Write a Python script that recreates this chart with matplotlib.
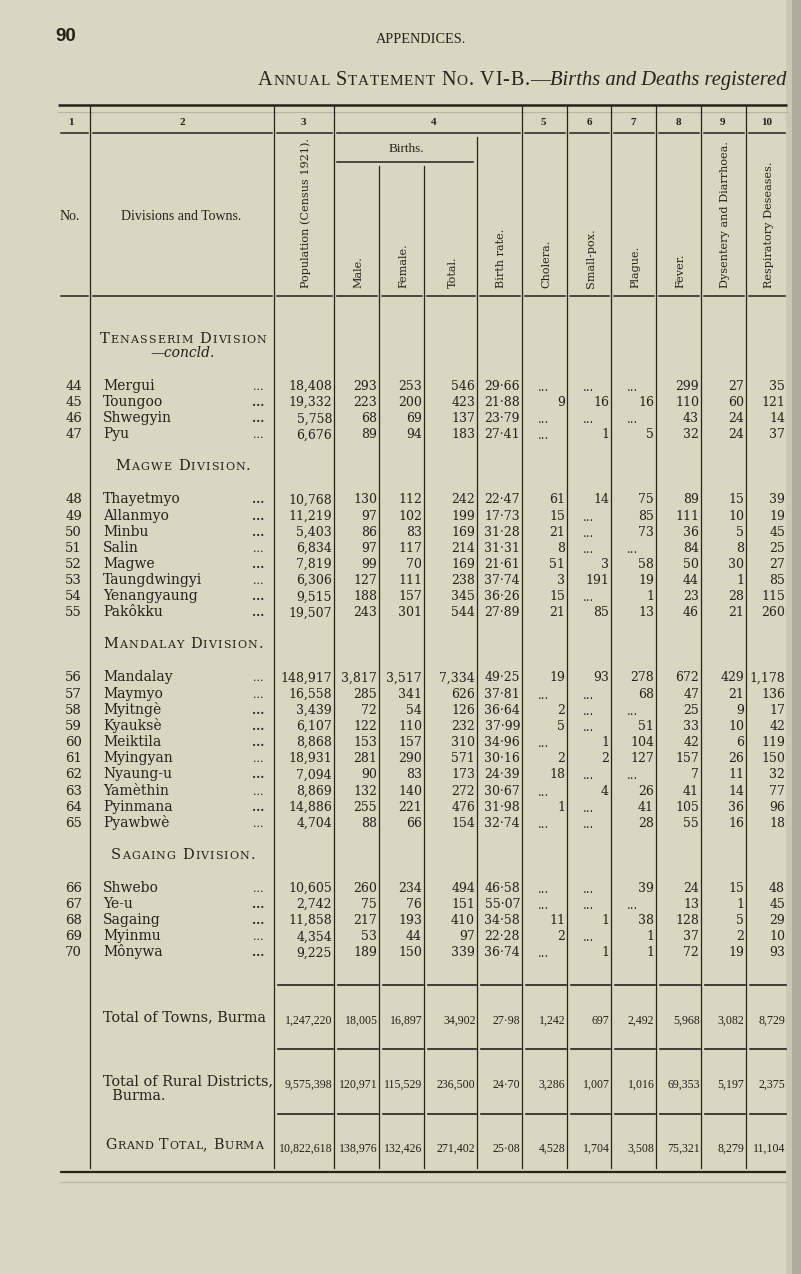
import matplotlib
matplotlib.use('Agg')
import matplotlib.pyplot as plt
from matplotlib.font_manager import FontProperties, findfont
from matplotlib.ft2font import FT2Font

PAPER = '#dbd6bf'
INK = '#25211d'
SERIF = 'DejaVu Serif'
TIMES = 'Liberation Serif'
PX = 100 / 72.0

# ---------------- data ----------------
row_no = list(range(44, 71))
towns = ['Mergui', 'Toungoo', 'Shwegyin', 'Pyu',
         'Thayetmyo', 'Allanmyo', 'Minbu', 'Salin', 'Magwe', 'Taungdwingyi',
         'Yenangyaung', 'Pakôkku',
         'Mandalay', 'Maymyo', 'Myitngè', 'Kyauksè', 'Meiktila', 'Myingyan',
         'Nyaung-u', 'Yamèthin', 'Pyinmana', 'Pyawbwè',
         'Shwebo', 'Ye-u', 'Sagaing', 'Myinmu', 'Mônywa']
divisions = ['Tenasserim Division', 'Magwe Division.', 'Mandalay Division.', 'Sagaing Division.']
division_notes = ['—concld.', None, None, None]
division_sizes = [4, 8, 10, 5]

population = ['18,408', '19,332', '5,758', '6,676', '10,768', '11,219', '5,403', '6,834', '7,819',
              '6,306', '9,515', '19,507', '148,917', '16,558', '3,439', '6,107', '8,868', '18,931',
              '7,094', '8,869', '14,886', '4,704', '10,605', '2,742', '11,858', '4,354', '9,225']
male = ['293', '223', '68', '89', '130', '97', '86', '97', '99', '127', '188', '243', '3,817', '285',
        '72', '122', '153', '281', '90', '132', '255', '88', '260', '75', '217', '53', '189']
female = ['253', '200', '69', '94', '112', '102', '83', '117', '70', '111', '157', '301', '3,517', '341',
          '54', '110', '157', '290', '83', '140', '221', '66', '234', '76', '193', '44', '150']
births_total = ['546', '423', '137', '183', '242', '199', '169', '214', '169', '238', '345', '544', '7,334',
                '626', '126', '232', '310', '571', '173', '272', '476', '154', '494', '151', '410', '97', '339']
birth_rate = ['29·66', '21·88', '23·79', '27·41', '22·47', '17·73', '31·28', '31·31', '21·61', '37·74',
              '36·26', '27·89', '49·25', '37·81', '36·64', '37·99', '34·96', '30·16', '24·39', '30·67',
              '31·98', '32·74', '46·58', '55·07', '34·58', '22·28', '36·74']
cholera = ['...', '9', '...', '...', '61', '15', '21', '8', '51', '3', '15', '21', '19', '...', '2', '5',
           '...', '2', '18', '...', '1', '...', '...', '...', '11', '2', '...']
small_pox = ['...', '16', '...', '1', '14', '...', '...', '...', '3', '191', '...', '85', '93', '...', '...',
             '...', '1', '2', '...', '4', '...', '...', '...', '...', '1', '...', '1']
plague = ['...', '16', '...', '5', '75', '85', '73', '...', '58', '19', '1', '13', '278', '68', '...', '51',
          '104', '127', '...', '26', '41', '28', '39', '...', '38', '1', '1']
fever = ['299', '110', '43', '32', '89', '111', '36', '84', '50', '44', '23', '46', '672', '47', '25', '33',
         '42', '157', '7', '41', '105', '55', '24', '13', '128', '37', '72']
dysentery = ['27', '60', '24', '24', '15', '10', '5', '8', '30', '1', '28', '21', '429', '21', '9', '10', '6',
             '26', '11', '14', '36', '16', '15', '1', '5', '2', '19']
respiratory = ['35', '121', '14', '37', '39', '19', '45', '25', '27', '85', '115', '260', '1,178', '136', '17',
               '42', '119', '150', '32', '77', '96', '18', '48', '45', '29', '10', '93']

total_labels = ['Total of Towns, Burma', 'Total of Rural Districts,\n  Burma.', 'Grand Total, Burma']
total_values = [
    ['1,247,220', '18,005', '16,897', '34,902', '27·98', '1,242', '697', '2,492', '5,968', '3,082', '8,729'],
    ['9,575,398', '120,971', '115,529', '236,500', '24·70', '3,286', '1,007', '1,016', '69,353', '5,197', '2,375'],
    ['10,822,618', '138,976', '132,426', '271,402', '25·08', '4,528', '1,704', '3,508', '75,321', '8,279', '11,104'],
]

col_numbers = ['1', '2', '3', '4', '5', '6', '7', '8', '9', '10']
header_rot = ['Population (Census 1921).', 'Male.', 'Female.', 'Total.', 'Birth rate.', 'Cholera.',
              'Small-pox.', 'Plague.', 'Fever.', 'Dysentery and Diarrhoea.', 'Respiratory Deseases.']

# leader style of the printed dots after each town name
heavy_leaders = {45, 46, 48, 49, 50, 52, 54, 55, 58, 59, 60, 62, 64, 67, 68, 70}

# ---------------- layout ----------------
EDGES = [58, 90, 274, 334, 379, 424, 477, 522, 567, 611, 656, 701, 746, 787]
NUM_X = [71, 182, 303, 434, 543, 589, 633, 678, 722, 767]

fig = plt.figure(figsize=(8.01, 12.74), dpi=100)
fig.patch.set_facecolor(PAPER)
ax = fig.add_axes([0, 0, 1, 1])
ax.set_xlim(0, 801)
ax.set_ylim(1274, 0)
ax.axis('off')

_fonts = {}


def advance(ch, family, size):
    """Advance width of one glyph, in pixels."""
    if family not in _fonts:
        _fonts[family] = FT2Font(findfont(FontProperties(family=family)))
    f = _fonts[family]
    f.set_size(size, 72)
    g = f.load_char(ord(ch))
    return g.linearHoriAdvance / 65536.0 * PX


def caps(x, y, s, big, small, ha='left', track=0.8, family=SERIF):
    """Small caps drawn letter by letter."""
    items = []
    for ch in s:
        sz = small if ch.islower() else big
        items.append((ch.upper(), sz, advance(ch.upper(), family, sz)))
    width = sum(w for _, _, w in items) + track * (len(items) - 1)
    cx = x - width / 2 if ha == 'center' else x
    for ch, sz, w in items:
        if ch != ' ':
            ax.text(cx, y, ch, fontsize=sz, family=family, color=INK, ha='left', va='baseline')
        cx += w + track
    return cx


# page head
ax.text(55, 41, '90', fontsize=13.5, family='Liberation Sans', weight='bold', color=INK, va='baseline')
ax.text(421, 43, 'APPENDICES.', fontsize=10.3, family=TIMES, color=INK, ha='center', va='baseline')
end = caps(258, 85, 'Annual Statement No. VI-B.', 14.5, 11, family=TIMES, track=0.7)
ax.text(end, 85, '—', fontsize=14.5, family=TIMES, color=INK, va='baseline')
end += advance('—', TIMES, 14.5)
ax.text(end, 85, 'Births and Deaths registered', fontsize=14.8, family=TIMES, style='italic',
        color=INK, va='baseline')

# rules
ax.plot([58, 787], [105, 105], color=INK, lw=1.8, solid_capstyle='butt')
ax.plot([58, 787], [112, 112], color='#b9b49f', lw=0.8)
ax.plot([60, 786], [1172, 1172], color=INK, lw=1.6, solid_capstyle='butt')
ax.plot([60, 786], [1182, 1182], color='#bdb8a3', lw=0.9)
BOT = 1168
for x in [90, 274, 334, 522, 567, 611, 656, 701, 746]:
    ax.plot([x, x], [105, BOT], color=INK, lw=0.9)
for x in [379, 424]:
    ax.plot([x, x], [166, BOT], color=INK, lw=0.9)
ax.plot([477, 477], [137, BOT], color=INK, lw=0.9)

top_cols = [0, 1, 2, 3, 7, 8, 9, 10, 11, 12]
for i, c in enumerate(top_cols):
    left = EDGES[c]
    right = EDGES[top_cols[i + 1]] if i + 1 < len(top_cols) else EDGES[-1]
    ax.plot([left + 3, right - 2], [133, 133], color=INK, lw=1.1)
ax.plot([337, 473], [162, 162], color=INK, lw=1.1)
for i in range(len(EDGES) - 1):
    ax.plot([EDGES[i] + 3, EDGES[i + 1] - 2], [296, 296], color=INK, lw=1.1)

# header texts
for lab, x in zip(col_numbers, NUM_X):
    ax.text(x, 125, lab, fontsize=8, family=TIMES, weight='bold', color=INK, ha='center', va='baseline')
ax.text(406, 152, 'Births.', fontsize=9.5, family=TIMES, color=INK, ha='center', va='baseline')
ax.text(70, 220, 'No.', fontsize=10, family=TIMES, color=INK, ha='center', va='baseline')
ax.text(181, 220, 'Divisions and Towns.', fontsize=10, family=TIMES, color=INK, ha='center', va='baseline')
for i, lab in enumerate(header_rot):
    xc = (EDGES[i + 2] + EDGES[i + 3]) / 2 + 2
    ax.text(xc, 288, lab, rotation=90, fontsize=8.1, family=SERIF, color=INK, ha='center', va='bottom')

# body
series = [population, male, female, births_total, birth_rate, cholera, small_pox, plague,
          fever, dysentery, respiratory]
STEP = 16.15
y = 343
k = 0
for d, (div, note, n) in enumerate(zip(divisions, division_notes, division_sizes)):
    caps(183, y, div, 10.5, 8, ha='center', track=1.1)
    if note:
        y += 14
        ax.text(183, y, note, fontsize=10, family=SERIF, style='italic', color=INK,
                ha='center', va='baseline')
    y += 33
    for j in range(n):
        ax.text(82, y, str(row_no[k]), fontsize=9.5, family=SERIF, color=INK, ha='right', va='baseline')
        ax.text(103, y, towns[k], fontsize=10, family=SERIF, color=INK, ha='left', va='baseline')
        heavy = row_no[k] in heavy_leaders
        ax.text(264, y, '...', fontsize=8 if not heavy else 8.5, family=SERIF,
                weight='bold' if heavy else 'normal', color=INK, ha='right', va='baseline')
        for c, s in enumerate(series):
            left, right = EDGES[c + 2], EDGES[c + 3]
            v = s[k]
            if v == '...':
                ax.text((left + right) / 2 - 1, y + 1, v, fontsize=8.5, family=SERIF, color=INK,
                        ha='center', va='baseline')
            else:
                ax.text(right - 2, y, v, fontsize=9, family=SERIF, color=INK, ha='right', va='baseline')
        k += 1
        if j < n - 1:
            y += STEP
    y += 32

# totals
line_ys = [985, 1049, 1114]
label_ys = [1021, 1085, 1149]
value_ys = [1024, 1088, 1152]
for ly in line_ys:
    for c in range(2, len(EDGES) - 1):
        ax.plot([EDGES[c] + 4, EDGES[c + 1] - 1], [ly, ly], color=INK, lw=1.2)
ax.text(103, label_ys[0], total_labels[0], fontsize=10.4, family=SERIF, color=INK, va='baseline')
ax.text(103, label_ys[1] + 15, total_labels[1], fontsize=10.4, family=SERIF, color=INK, va='baseline',
        linespacing=1.05)
caps(105, label_ys[2], total_labels[2], 10.3, 7.9, track=0.6)
for vals, vy in zip(total_values, value_ys):
    for c, v in enumerate(vals):
        right = EDGES[c + 3]
        ax.text(right - 1.5, vy, v, fontsize=8.6, family=TIMES, color=INK, ha='right', va='baseline')

# page edge shadow
ax.axvspan(786, 792, color='#ccc8b3', lw=0)
ax.axvspan(792, 801, color='#aeab9c', lw=0)

fig.savefig('out.png', dpi=100, facecolor=PAPER)
